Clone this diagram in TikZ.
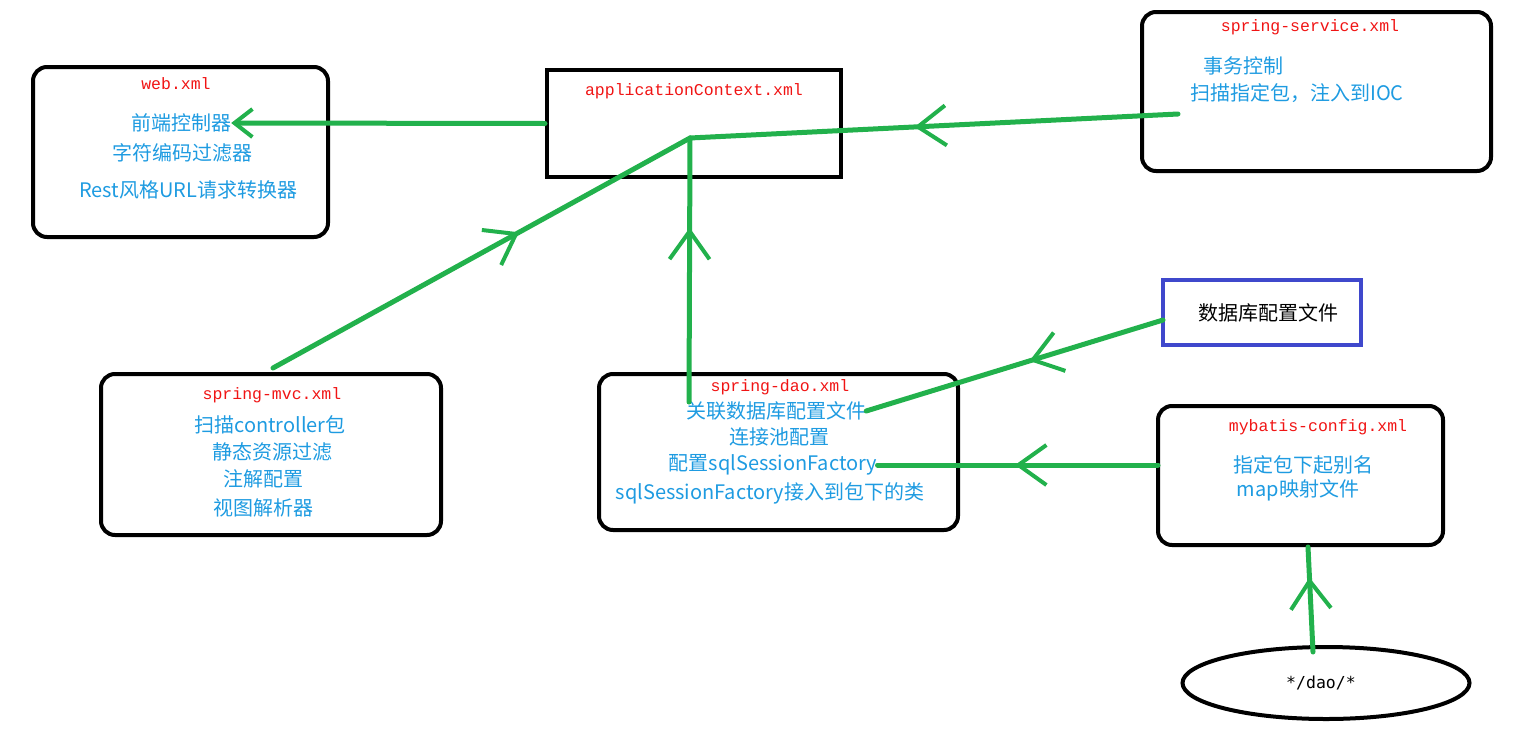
\documentclass[tikz,border=0pt]{standalone}
\usepackage{fontspec}
\newfontfamily\cjk{Noto Sans CJK SC}
\newfontfamily\mono{Liberation Mono}
\newfontfamily\latmono{DejaVu Sans Mono}
\usetikzlibrary{arrows.meta,decorations.markings,shapes.geometric}
\definecolor{pgreen}{RGB}{34,177,76}
\definecolor{pblue}{RGB}{30,155,225}
\definecolor{pred}{RGB}{240,20,20}
\definecolor{pindigo}{RGB}{63,72,204}
\tikzset{
  box/.style={draw=black, line width=4, rounded corners=14, inner sep=0, minimum width=#1},
  sbox/.style={draw=black, line width=4, inner sep=0},
  title/.style={text=pred, font=\mono\fontsize{16.5}{16.5}\selectfont, inner sep=0},
  item/.style={text=pblue, font=\cjk\fontsize{20}{20}\selectfont, inner sep=0},
  flow/.style={draw=pgreen, line width=5, line cap=round, line join=round},
  midarrow/.style={postaction={decorate}, decoration={markings, mark=at position #1 with {\arrow[pgreen]{Straight Barb[length=28,width=40,line width=4]}}}}
}
\begin{document}
\begin{tikzpicture}[x=1pt,y=-1pt]
\useasboundingbox (0,0) rectangle (1523,731);
% boxes
\node[box=295, minimum height=170] (web) at (180.5,152) {};
\node[sbox, minimum width=294, minimum height=107] (ctx) at (694,123.5) {};
\node[box=349, minimum height=159] (svc) at (1316.5,91.5) {};
\node[box=340, minimum height=161] (mvc) at (271,454.5) {};
\node[box=359, minimum height=156] (dao) at (778.5,452) {};
\node[draw=pindigo, line width=4, inner sep=0, minimum width=198, minimum height=65, font=\cjk\fontsize{20}{20}\selectfont] (db) at (1262,312.5) {\hspace*{12pt}数据库配置文件};
\node[box=285, minimum height=139] (myb) at (1300.5,475.5) {};
\node[draw=black, line width=4, ellipse, inner sep=0, minimum width=287, minimum height=72] (ell) at (1326,683) {};
\node[font=\latmono\fontsize{16.5}{16.5}\selectfont, inner sep=0] (elltext) at (1321,683) {*/dao/*};
% texts
\node[title] (webt) at (176,84) {web.xml};
\node[item] (front) at (181,123) {前端控制器};
\node[item] (charenc) at (182,153) {字符编码过滤器};
\node[item] (rest) at (188,190) {Rest风格URL请求转换器};
\node[title] (ctxt) at (694,91) {applicationContext.xml};
\node[title] (svct) at (1310,27) {spring-service.xml};
\node[item] (txctl) at (1243,66) {事务控制};
\node[item] (scanioc) at (1297,93) {扫描指定包，注入到IOC};
\node[title] (mvct) at (272,395) {spring-mvc.xml};
\node[item] (scanctl) at (270,425) {扫描controller包};
\node[item] (staticf) at (272,452) {静态资源过滤};
\node[item] (annot) at (263,479) {注解配置};
\node[item] (viewr) at (263,508) {视图解析器};
\node[title] (daot) at (780,387) {spring-dao.xml};
\node[item] (rel) at (776,411) {关联数据库配置文件};
\node[item] (pool) at (779,437) {连接池配置};
\node[item] (sqlf) at (773,465) {配置sqlSessionFactory};
\node[item] (sqlcls) at (770,493) {sqlSessionFactory接入到包下的类};
\node[title] (mybt) at (1318,427) {mybatis-config.xml};
\node[item] (alias) at (1303,465) {指定包下起别名};
\node[item] (mapf) at (1298,490) {map映射文件};
% coordinates
\coordinate (junc) at (690,138);
\coordinate (svcin) at (1178,114);
\coordinate (mvcout) at (273,368);
\coordinate (daoout) at (689,402);
\coordinate (dbout) at (1163,320);
\coordinate (myout) at (1158,465);
\coordinate (ellout) at (1313,652);
% connectors
\draw[flow, -{Straight Barb[length=18,width=28,line width=4]}] (ctx.west) -- (front.east);
\draw[flow, midarrow=0.54] (svcin) -- (junc);
\draw[flow, midarrow=0.59] (mvcout) -- (junc);
\draw[flow, midarrow=0.66] (daoout) -- (junc);
\draw[flow, midarrow=0.45] (dbout) -- (rel.east);
\draw[flow, midarrow=0.51] (myout) -- (sqlf.east);
\draw[flow, midarrow=0.71] (ellout) -- (myb.south -| 1308,0);
\end{tikzpicture}
\end{document}
